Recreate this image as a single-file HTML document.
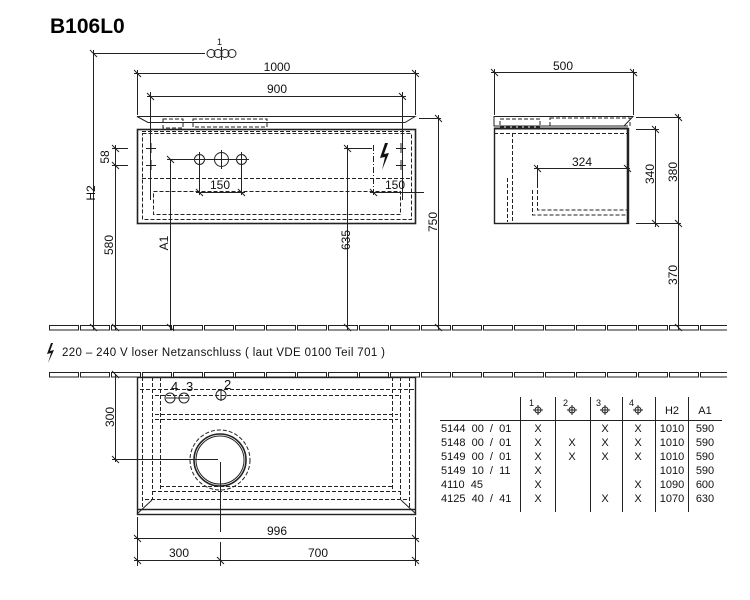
<!DOCTYPE html>
<html><head><meta charset="utf-8"><style>
html,body{margin:0;padding:0;background:#fff;width:750px;height:600px;overflow:hidden}
svg{display:block}
text{font-family:"Liberation Sans",sans-serif;fill:#111;white-space:pre}
</style></head><body>
<svg width="750" height="600" viewBox="0 0 750 600" xmlns="http://www.w3.org/2000/svg">
<defs>
<pattern id="floor1" x="49" y="325" width="31" height="6" patternUnits="userSpaceOnUse">
<rect x="0.5" y="0.5" width="29" height="4.5" fill="none" stroke="#222" stroke-width="1"/>
</pattern>
<pattern id="floor2" x="49" y="372" width="31" height="6" patternUnits="userSpaceOnUse">
<rect x="0.5" y="0.5" width="29" height="4.5" fill="none" stroke="#222" stroke-width="1"/>
</pattern>
</defs>
<text x="50" y="33" font-size="21" font-weight="bold" style="fill:#000">B106L0</text>

<rect x="49" y="325" width="678" height="6" fill="url(#floor1)"/>
<rect x="49" y="372" width="678" height="6" fill="url(#floor2)"/>

<g stroke="#222" stroke-width="1" fill="none">
<path d="M137,116.5 H415 L405,122.5 H148 Z"/>
<rect x="137.5" y="129.5" width="278" height="94" stroke-width="1.6"/>
<g stroke-dasharray="4,2">
<rect x="142.5" y="133.5" width="269" height="86"/>
<line x1="142" y1="178.5" x2="412" y2="178.5"/>
<rect x="153.5" y="191.5" width="247" height="23"/>
<line x1="142" y1="131.5" x2="412" y2="131.5"/>
<rect x="163" y="119" width="20" height="9"/>
<rect x="193" y="119" width="74" height="8"/>
</g>
<line x1="93.5" y1="50" x2="93.5" y2="330"/>
<line x1="93" y1="53.5" x2="205" y2="53.5"/>
<line x1="137.5" y1="70" x2="137.5" y2="115"/>
<line x1="415.5" y1="70" x2="415.5" y2="115"/>
<line x1="134" y1="73.5" x2="419" y2="73.5"/>
<line x1="150.5" y1="92" x2="150.5" y2="200"/>
<line x1="402.5" y1="92" x2="402.5" y2="200"/>
<line x1="147" y1="96.5" x2="406" y2="96.5"/>
<line x1="115.5" y1="145" x2="115.5" y2="330"/>
<line x1="112" y1="148.5" x2="128" y2="148.5"/>
<line x1="112" y1="165.5" x2="128" y2="165.5"/>
<line x1="170.5" y1="159" x2="170.5" y2="330"/>
<line x1="167" y1="159.5" x2="196" y2="159.5"/>
<line x1="199.5" y1="159" x2="199.5" y2="195"/>
<line x1="241.5" y1="159" x2="241.5" y2="195"/>
<line x1="196" y1="192.5" x2="245" y2="192.5"/>
<line x1="347.5" y1="145" x2="347.5" y2="330"/>
<line x1="344" y1="148.5" x2="372" y2="148.5"/>
<line x1="373.5" y1="145" x2="373.5" y2="195" stroke-dasharray="6,2,1,2"/>
<line x1="370" y1="192.5" x2="424" y2="192.5"/>
<line x1="438.5" y1="115" x2="438.5" y2="330"/>
<line x1="419" y1="118.5" x2="441" y2="118.5"/>
<path d="M90,50 l7,7 M134,70 l7,7 M412,70 l7,7 M147,93 l7,7 M399,93 l7,7 M112,145 l7,7 M112,162 l7,7 M167,156 l7,7 M196,189 l7,7 M238,189 l7,7 M344,145 l7,7 M370,189 l7,7 M435,115 l7,7 M90,324 l7,7 M112,324 l7,7 M167,324 l7,7 M344,324 l7,7 M435,324 l7,7"/>
<path d="M146,148.5 h10 M151,143 v10 M146,165.5 h10 M151,160 v10 M396,148.5 h10 M401,143 v10 M396,165.5 h10 M401,160 v10"/>
<circle cx="199.5" cy="159.5" r="5"/><circle cx="221.5" cy="159.5" r="7"/><circle cx="241.5" cy="159.5" r="5"/>
<path d="M192,159.5 h57 M199.5,152 v15 M221.5,150 v19 M241.5,152 v15"/>
<circle cx="211" cy="53.5" r="4"/><circle cx="218" cy="53.5" r="4"/><circle cx="225" cy="53.5" r="4"/><circle cx="232" cy="53.5" r="4"/>
<path d="M221.5,47 v13"/>

<path d="M494,116.5 H633 L624,126 H494 Z"/>
<rect x="494.5" y="128.5" width="134" height="95" stroke-width="1.4"/>
<line x1="627.5" y1="128" x2="627.5" y2="224" stroke-width="1.6"/>
<line x1="494" y1="128.5" x2="628" y2="128.5" stroke-width="2"/>
<g stroke-dasharray="4,2">
<line x1="494" y1="133.5" x2="627" y2="133.5"/>
<line x1="512.5" y1="133" x2="512.5" y2="222"/>
<line x1="507.5" y1="178" x2="507.5" y2="222"/>
<path d="M532.5,190 v25 h95 M537.5,190 v20 h90"/>
<rect x="500" y="119" width="40" height="8"/>
<rect x="550" y="118" width="80" height="8"/>
</g>
<line x1="494.5" y1="69" x2="494.5" y2="115"/>
<line x1="633.5" y1="69" x2="633.5" y2="115"/>
<line x1="491" y1="72.5" x2="637" y2="72.5"/>
<line x1="537.5" y1="165" x2="537.5" y2="188"/>
<line x1="534" y1="168.5" x2="630" y2="168.5"/>
<line x1="636" y1="117.5" x2="681" y2="117.5"/>
<line x1="636" y1="129.5" x2="659" y2="129.5"/>
<line x1="636" y1="223.5" x2="681" y2="223.5"/>
<line x1="655.5" y1="126" x2="655.5" y2="227"/>
<line x1="678.5" y1="114" x2="678.5" y2="330"/>
<path d="M491,69 l7,7 M630,69 l7,7 M534,165 l7,7 M624,165 l7,7 M652,126 l7,7 M652,220 l7,7 M675,114 l7,7 M675,220 l7,7 M675,324 l7,7"/>

<rect x="137.5" y="377.5" width="278" height="137" stroke-width="1.4"/>
<line x1="137" y1="509.5" x2="416" y2="509.5" stroke-width="1.4"/>
<path d="M137,514 L152,500 M416,514 L401,500"/>
<g stroke-dasharray="4,2">
<line x1="142.5" y1="377" x2="142.5" y2="508"/>
<line x1="152.5" y1="377" x2="152.5" y2="500"/>
<line x1="160.5" y1="377" x2="160.5" y2="492"/>
<line x1="400.5" y1="377" x2="400.5" y2="500"/>
<line x1="392.5" y1="377" x2="392.5" y2="492"/>
<line x1="409.5" y1="377" x2="409.5" y2="508"/>
<line x1="140" y1="389.5" x2="414" y2="389.5"/>
<line x1="155" y1="395.5" x2="400" y2="395.5"/>
<line x1="155" y1="414.5" x2="398" y2="414.5"/>
<line x1="155" y1="419.5" x2="398" y2="419.5"/>
<line x1="160" y1="486.5" x2="393" y2="486.5"/>
<line x1="152" y1="491.5" x2="401" y2="491.5"/>
<line x1="145" y1="499.5" x2="408" y2="499.5"/>
<circle cx="220" cy="460" r="30"/>
</g>
<circle cx="220" cy="460" r="26" stroke-width="1.6"/>
<circle cx="220" cy="460" r="24"/>
<circle cx="170" cy="398" r="5"/><circle cx="184" cy="398" r="5"/><circle cx="221" cy="395" r="5"/>
<path d="M166,398 h22 M221,389 v12"/>
<line x1="115.5" y1="374" x2="115.5" y2="462"/>
<line x1="112" y1="459.5" x2="218" y2="459.5"/>
<line x1="220.5" y1="462" x2="220.5" y2="532"/>
<line x1="137.5" y1="517" x2="137.5" y2="566"/>
<line x1="415.5" y1="517" x2="415.5" y2="566"/>
<line x1="220.5" y1="542" x2="220.5" y2="566"/>
<line x1="134" y1="538.5" x2="419" y2="538.5"/>
<line x1="134" y1="560.5" x2="419" y2="560.5"/>
<path d="M112,371 l7,7 M112,456 l7,7 M134,535 l7,7 M412,535 l7,7 M134,557 l7,7 M217,557 l7,7 M412,557 l7,7"/>

<path d="M520.5,397 V512 M555.5,397 V512 M590.5,397 V512 M622.5,397 V512 M655.5,397 V512 M688.5,397 V512"/>
<line x1="440" y1="420.5" x2="722" y2="420.5"/>
<circle cx="538" cy="410" r="3"/><path d="M533,410 h10 M538,405 v10"/>
<circle cx="572" cy="410" r="3"/><path d="M567,410 h10 M572,405 v10"/>
<circle cx="605" cy="410" r="3"/><path d="M600,410 h10 M605,405 v10"/>
<circle cx="638" cy="410" r="3"/><path d="M633,410 h10 M638,405 v10"/>
</g>

<path d="M385,143 L380,158 L385,157 L382,170 L389,153 L384,154 L388,143 Z" fill="#111"/>
<path d="M51,343 L47,354 L51,353 L48,363 L54,350 L50,351 L53,343 Z" fill="#111"/>

<g font-size="12">
<text x="217" y="45" font-size="9">1</text>
<text x="277" y="71" text-anchor="middle">1000</text>
<text x="277" y="93" text-anchor="middle">900</text>
<text x="220" y="189" text-anchor="middle">150</text>
<text x="395" y="189" text-anchor="middle">150</text>
<text transform="translate(95,193) rotate(-90)" text-anchor="middle">H2</text>
<text transform="translate(109,157) rotate(-90)" text-anchor="middle">58</text>
<text transform="translate(113,245) rotate(-90)" text-anchor="middle">580</text>
<text transform="translate(168,243) rotate(-90)" text-anchor="middle">A1</text>
<text transform="translate(350,240) rotate(-90)" text-anchor="middle">635</text>
<text transform="translate(437,222) rotate(-90)" text-anchor="middle">750</text>
<text x="563" y="70" text-anchor="middle">500</text>
<text x="582" y="166" text-anchor="middle">324</text>
<text transform="translate(654,174) rotate(-90)" text-anchor="middle">340</text>
<text transform="translate(677,172) rotate(-90)" text-anchor="middle">380</text>
<text transform="translate(677,275) rotate(-90)" text-anchor="middle">370</text>
<text x="62" y="356" font-size="11.5" textLength="323" lengthAdjust="spacing">220 – 240 V loser Netzanschluss ( laut VDE 0100 Teil 701 )</text>
<text transform="translate(114,417) rotate(-90)" text-anchor="middle">300</text>
<text x="277" y="535" text-anchor="middle">996</text>
<text x="179" y="557" text-anchor="middle">300</text>
<text x="318" y="557" text-anchor="middle">700</text>
<text x="171" y="391" font-size="13">4</text>
<text x="186" y="391" font-size="13">3</text>
<text x="224" y="389" font-size="13">2</text>
</g>
<g font-size="11">
<text x="529" y="406" font-size="9">1</text><text x="563" y="406" font-size="9">2</text><text x="596" y="406" font-size="9">3</text><text x="629" y="406" font-size="9">4</text>
<text x="672" y="414" text-anchor="middle">H2</text><text x="705" y="414" text-anchor="middle">A1</text>
<text x="441" y="432">5144  00  /  01</text>
<text x="441" y="446">5148  00  /  01</text>
<text x="441" y="460">5149  00  /  01</text>
<text x="441" y="474">5149  10  /  11</text>
<text x="441" y="488">4110  45</text>
<text x="441" y="502">4125  40  /  41</text>
<g text-anchor="middle">
<text x="538" y="432">X</text><text x="605" y="432">X</text><text x="638" y="432">X</text><text x="672" y="432">1010</text><text x="705" y="432">590</text>
<text x="538" y="446">X</text><text x="572" y="446">X</text><text x="605" y="446">X</text><text x="638" y="446">X</text><text x="672" y="446">1010</text><text x="705" y="446">590</text>
<text x="538" y="460">X</text><text x="572" y="460">X</text><text x="605" y="460">X</text><text x="638" y="460">X</text><text x="672" y="460">1010</text><text x="705" y="460">590</text>
<text x="538" y="474">X</text><text x="672" y="474">1010</text><text x="705" y="474">590</text>
<text x="538" y="488">X</text><text x="638" y="488">X</text><text x="672" y="488">1090</text><text x="705" y="488">600</text>
<text x="538" y="502">X</text><text x="605" y="502">X</text><text x="638" y="502">X</text><text x="672" y="502">1070</text><text x="705" y="502">630</text>
</g>
</g>
</svg>
</body></html>
